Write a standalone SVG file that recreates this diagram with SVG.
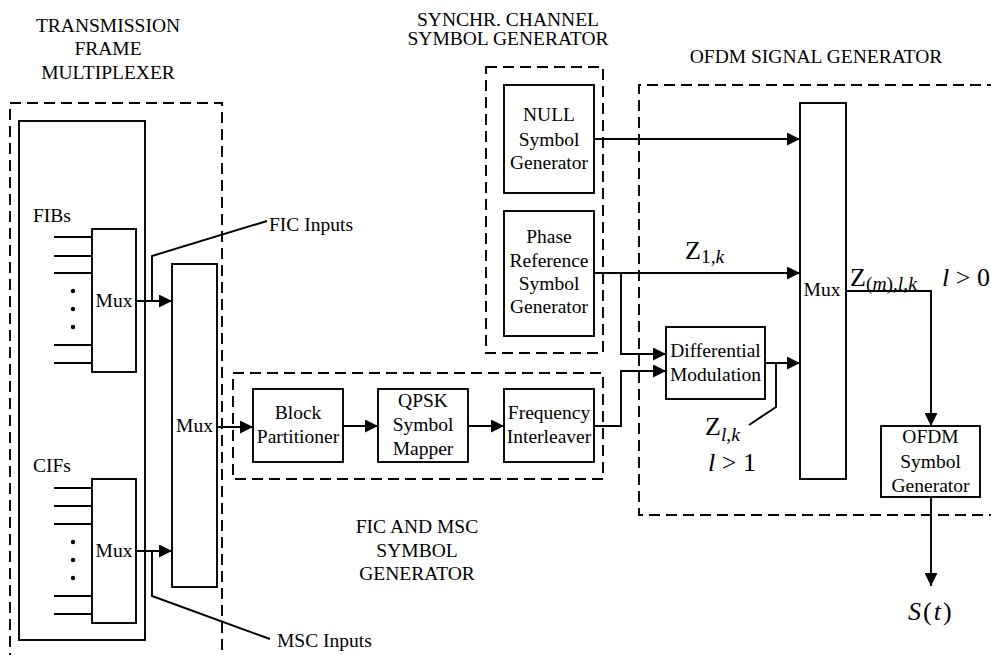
<svg xmlns="http://www.w3.org/2000/svg" width="991" height="655" viewBox="0 0 991 655">
  <defs>
    <marker id="arrow" markerUnits="userSpaceOnUse" markerWidth="14" markerHeight="13" refX="13" refY="6.5" orient="auto">
      <path d="M0,0 L13,6.5 L0,13 z" fill="#000"/>
    </marker>
    <style>
      text { font-family: "Liberation Serif", "Times New Roman", serif; fill: #000; }
      .t { font-size: 19.5px; }
      .c { text-anchor: middle; }
      .m { font-size: 26px; }
      .s { font-size: 19.5px; }
      .i { font-style: italic; }
      .box { fill: #fff; stroke: #000; stroke-width: 1.9; }
      .grp { fill: none; stroke: #000; stroke-width: 1.9; stroke-dasharray: 11 6; }
      .ln { fill: none; stroke: #000; stroke-width: 1.9; }
      .arr { fill: none; stroke: #000; stroke-width: 1.9; marker-end: url(#arrow); }
    </style>
  </defs>
  <rect width="991" height="655" fill="#fff"/>

  <!-- section frames and their titles -->
  <g id="frames">
    <rect class="grp" x="10" y="103" width="212" height="570"/>
    <rect class="grp" x="486" y="67" width="117" height="286"/>
    <rect class="grp" x="233" y="373" width="370" height="106"/>
    <path class="grp" d="M998,85 H639 V515 H998"/>
    <text class="t c" x="108" y="32">TRANSMISSION</text>
    <text class="t c" x="108" y="55">FRAME</text>
    <text class="t c" x="108" y="79">MULTIPLEXER</text>
    <text class="t c" x="508" y="26">SYNCHR. CHANNEL</text>
    <text class="t c" x="508" y="45">SYMBOL GENERATOR</text>
    <text class="t c" x="816" y="63">OFDM SIGNAL GENERATOR</text>
    <text class="t c" x="417" y="533">FIC AND MSC</text>
    <text class="t c" x="417" y="557">SYMBOL</text>
    <text class="t c" x="417" y="580">GENERATOR</text>
  </g>

  <g id="multiplexer-frame">
    <rect class="box" x="19" y="121" width="126" height="519"/>
  </g>

  <g id="fib-mux">
    <text class="t" x="33" y="222">FIBs</text>
    <path class="ln" d="M54,237 H92 M54,256 H92 M54,273 H92 M54,345 H92 M54,363 H92"/>
    <circle cx="73" cy="291" r="2.2"/>
    <circle cx="73" cy="309" r="2.2"/>
    <circle cx="73" cy="327" r="2.2"/>
    <rect class="box" x="92" y="229" width="44" height="143"/>
    <text class="t c" x="114" y="307">Mux</text>
  </g>

  <g id="cif-mux">
    <text class="t" x="33" y="472">CIFs</text>
    <path class="ln" d="M54,488 H92 M54,506 H92 M54,524 H92 M54,596 H92 M54,614 H92"/>
    <circle cx="73" cy="542" r="2.2"/>
    <circle cx="73" cy="560" r="2.2"/>
    <circle cx="73" cy="578" r="2.2"/>
    <rect class="box" x="92" y="479" width="44" height="144"/>
    <text class="t c" x="114" y="557">Mux</text>
  </g>

  <g id="main-mux">
    <rect class="box" x="172" y="264" width="45" height="323"/>
    <text class="t c" x="194.5" y="432">Mux</text>
  </g>

  <g id="block-partitioner">
    <rect class="box" x="253" y="389" width="90" height="73"/>
    <text class="t c" x="298" y="419">Block</text>
    <text class="t c" x="298" y="443">Partitioner</text>
  </g>

  <g id="qpsk-mapper">
    <rect class="box" x="378" y="389" width="90" height="73"/>
    <text class="t c" x="423" y="407">QPSK</text>
    <text class="t c" x="423" y="431">Symbol</text>
    <text class="t c" x="423" y="455">Mapper</text>
  </g>

  <g id="frequency-interleaver">
    <rect class="box" x="504" y="389" width="90" height="73"/>
    <text class="t c" x="549" y="419">Frequency</text>
    <text class="t c" x="549" y="443">Interleaver</text>
  </g>

  <g id="null-symbol">
    <rect class="box" x="504" y="85" width="90" height="108"/>
    <text class="t c" x="549" y="121">NULL</text>
    <text class="t c" x="549" y="146">Symbol</text>
    <text class="t c" x="549" y="169">Generator</text>
  </g>

  <g id="phase-reference">
    <rect class="box" x="504" y="211" width="90" height="125"/>
    <text class="t c" x="549" y="243">Phase</text>
    <text class="t c" x="549" y="267">Reference</text>
    <text class="t c" x="549" y="290">Symbol</text>
    <text class="t c" x="549" y="313">Generator</text>
  </g>

  <g id="differential-modulation">
    <rect class="box" x="666" y="327" width="99" height="72"/>
    <text class="t c" x="715.5" y="357">Differential</text>
    <text class="t c" x="715.5" y="381">Modulation</text>
  </g>

  <g id="ofdm-mux">
    <rect class="box" x="800" y="103" width="46" height="376"/>
    <text class="t c" x="822" y="296">Mux</text>
  </g>

  <g id="ofdm-symbol-generator">
    <rect class="box" x="881" y="426" width="99" height="71"/>
    <text class="t c" x="930.5" y="443">OFDM</text>
    <text class="t c" x="930.5" y="468">Symbol</text>
    <text class="t c" x="930.5" y="492">Generator</text>
  </g>

  <g id="connectors">
    <path class="arr" d="M136,301 H172"/>
    <path class="arr" d="M136,551 H172"/>
    <path class="ln" d="M152,301 V256 L267,221"/>
    <path class="ln" d="M152,551 V596 L270,639"/>
    <path class="arr" d="M217,427 H253"/>
    <path class="arr" d="M343,426 H378"/>
    <path class="arr" d="M468,426 H504"/>
    <path class="arr" d="M594,426 H621 V371 H666"/>
    <path class="arr" d="M594,139 H800"/>
    <path class="arr" d="M594,273 H800"/>
    <path class="arr" d="M621,273 V354 H666"/>
    <path class="arr" d="M765,363 H800"/>
    <path class="ln" d="M776,363 V407 L749,425"/>
    <path class="arr" d="M846,291 H931 V426"/>
    <path class="arr" d="M931,497 V586"/>
  </g>

  <g id="labels">
    <text class="t" x="269" y="231">FIC Inputs</text>
    <text class="t" x="277" y="647">MSC Inputs</text>
    <text class="m" x="685" y="259">Z<tspan class="s" dy="4">1,<tspan class="i">k</tspan></tspan></text>
    <text class="m" x="850" y="286">Z<tspan class="s" dy="4">(<tspan class="i">m</tspan>),<tspan class="i">l</tspan>,<tspan class="i">k</tspan></tspan></text>
    <text class="m" x="942" y="286"><tspan class="i">l</tspan> &gt; 0</text>
    <text class="m" x="705" y="435">Z<tspan class="s i" dy="6">l</tspan><tspan class="s">,</tspan><tspan class="s i">k</tspan></text>
    <text class="m" x="708" y="471"><tspan class="i">l</tspan> &gt; 1</text>
    <text class="m" x="908" y="620" letter-spacing="2"><tspan class="i">S</tspan>(<tspan class="i">t</tspan>)</text>
  </g>
</svg>
